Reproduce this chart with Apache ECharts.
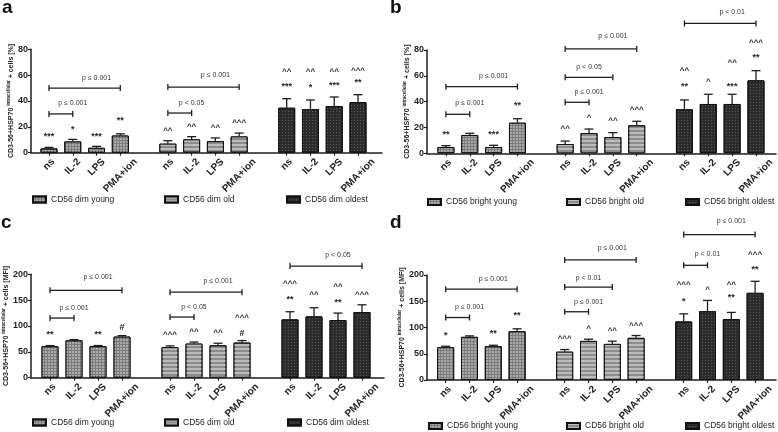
<!DOCTYPE html>
<html>
<head>
<meta charset="utf-8">
<script src="https://cdn.jsdelivr.net/npm/echarts@6/dist/echarts.min.js"></script>
<style>html,body{margin:0;background:#fff}#main{width:778px;height:432px}</style>
</head>
<body>
<div id="main"></div>
<script>
var categories = ['ns','IL-2','LPS','PMA+ion','','ns','IL-2','LPS','PMA+ion','','ns','IL-2','LPS','PMA+ion'];
var groupStart = [0, 5, 10];
var dimNames = ['CD56 dim young', 'CD56 dim old', 'CD56 dim oldest'];
var brightNames = ['CD56 bright young', 'CD56 bright old', 'CD56 bright oldest'];

// a: CD56 dim, % positive
var aValues = [[3.3, 8.7, 3.8, 13.3], [7, 10.3, 9, 12.6], [34.8, 33.8, 36.1, 39.2]];
var aErrors = [[0.8, 1.6, 1.1, 1.3], [2.3, 2.1, 2.4, 2.6], [7, 7, 7, 5.7]];
var aMarks = [[0,14,'***'],[1,19.5,'*'],[2,14,'***'],[3,26.7,'**'],
  [5,18.6,'^^'],[6,21.4,'^^'],[7,20.6,'^^'],[8,24.5,'^^^'],
  [10,64,'^^'],[11,64,'^^'],[12,64,'^^'],[13,65,'^^^'],
  [10,53,'***'],[11,52,'*'],[12,53.7,'***'],[13,56,'**']];
var aBrackets = [[0,1,30,38.2,'p ≤ 0.001'],[0,3,50,58,'p ≤ 0.001'],
  [5,6,30.7,38.7,'p < 0.05'],[5,8,50.8,60,'p ≤ 0.001']];

// b: CD56 bright, % positive
var bValues = [[4.9, 14.2, 4.9, 23.7], [7.2, 15.7, 12.6, 21.7], [34.1, 38.2, 38.2, 56.5]];
var bErrors = [[1.0, 1.3, 1.3, 3.1], [2.3, 3.1, 3.4, 3.1], [7.2, 7.5, 7.5, 7.5]];
var bMarks = [[0,16.3,'**'],[2,16.3,'***'],[3,38.5,'**'],
  [5,20.6,'^^'],[6,29.2,'^'],[7,26.6,'^^'],[8,35.4,'^^^'],
  [10,65.3,'^^'],[10,52.9,'**'],[11,56.8,'^'],[12,71.5,'^^'],[12,52.9,'***'],
  [13,87.2,'^^^'],[13,75.4,'**']];
var bBrackets = [[0,1,30.2,39.2,'p ≤ 0.001'],[0,3,51.6,59.9,'p ≤ 0.001'],
  [5,6,39.5,47.7,'p ≤ 0.001'],[5,7,58.8,67,'p < 0.05'],[5,8,80.8,91,'p ≤ 0.001'],
  [10,13,100.6,109,'p < 0.01']];

// c: CD56 dim, MFI
var cValues = [[60.9, 72.4, 61, 79.5], [59, 66, 62.8, 68], [112.8, 118.6, 111.5, 127]];
var cErrors = [[1.2, 1.3, 1.2, 1.9], [2.5, 3, 3.9, 3.8], [14.8, 16.7, 13.5, 14]];
var cMarks = [[0,86.5,'**'],[2,88,'**'],[3,100.6,'#'],
  [5,86,'^^^'],[6,93,'^^'],[7,90,'^^'],[8,90,'#'],[8,120.5,'^^^'],
  [10,185,'^^^'],[10,154.5,'**'],[11,164,'^^'],[12,180,'^^'],[12,149,'**'],[13,165,'^^^']];
var cBrackets = [[0,1,115.4,134.6,'p ≤ 0.001'],[0,3,169,194,'p ≤ 0.001'],
  [5,6,117.3,136.5,'p < 0.05'],[5,8,165.4,187,'p ≤ 0.001'],
  [10,13,216,236.5,'p < 0.05']];

// d: CD56 bright, MFI
var dValues = [[62.4, 82.2, 64.3, 93], [54, 74.5, 68.8, 80.3], [111.5, 131, 116, 166]];
var dErrors = [[1.9, 1.8, 1.9, 4.5], [4, 3.2, 5.1, 4.4], [14.5, 20.6, 12.7, 22]];
var dMarks = [[0,89,'*'],[2,92,'**'],[3,127,'**'],
  [5,81.5,'^^^'],[6,100.6,'^'],[7,98,'^^'],[8,107.6,'^^^'],
  [10,184.7,'^^^'],[10,154,'*'],[11,176.4,'^'],[12,184.7,'^^'],[12,161,'**'],
  [13,242.7,'^^^'],[13,215,'**']];
var dBrackets = [[0,1,119,138,'p ≤ 0.001'],[0,3,173,193,'p ≤ 0.001'],
  [5,6,130,148.4,'p ≤ 0.001'],[5,7,177,195,'p < 0.01'],[5,8,228.7,251.6,'p ≤ 0.001'],
  [10,11,218.5,240,'p < 0.01'],[10,13,277,302.5,'p ≤ 0.001']];

var panels = [
  {letter:'a', names:dimNames, values:aValues, errors:aErrors, marks:aMarks, brackets:aBrackets, max:80, step:20, unit:'[%]'},
  {letter:'b', names:brightNames, values:bValues, errors:bErrors, marks:bMarks, brackets:bBrackets, max:80, step:20, unit:'[%]'},
  {letter:'c', names:dimNames, values:cValues, errors:cErrors, marks:cMarks, brackets:cBrackets, max:200, step:50, unit:'[MFI]'},
  {letter:'d', names:brightNames, values:dValues, errors:dErrors, marks:dMarks, brackets:dBrackets, max:200, step:50, unit:'[MFI]'}
];

// layout in px: outer = axis frame, inner = bar area
var boxes = [
  {outer:[31, 49.3, 351, 103.4], inner:[37.1, 332.8], letter:[2, -2], legendLeft:[32, 164, 286], legendTop:195},
  {outer:[427, 50, 349, 103.3], inner:[434, 333.9], letter:[390, -2], legendLeft:[427, 566, 685], legendTop:197.5},
  {outer:[31, 274.3, 353, 103.4], inner:[38, 336], letter:[1, 213], legendLeft:[32, 164, 287], legendTop:418},
  {outer:[427, 275, 349, 105], inner:[433.8, 333.2], letter:[390, 213], legendLeft:[428, 566, 685], legendTop:421.5}
];

var fills = ['#7c7c7c', '#8c8c8c', '#2c2c2c'];
var decals = [
  {symbol:'rect', symbolSize:1, dashArrayX:[2, 1], dashArrayY:[2, 1], color:'#a9a9a9'},
  {symbol:'rect', symbolSize:1, dashArrayX:[20, 0], dashArrayY:[1.5, 1.5], color:'#bcbcbc'},
  {symbol:'rect', symbolSize:1, dashArrayX:[1, 2], dashArrayY:[1, 2], color:'#5a5a5a'}
];
var ink = '#1e1e1e';
var font = 'Liberation Sans';

// rotated tick labels: centre each under its tick with the top just below the axis
var xFont = 'bold 10px ' + font;
var ctx = document.createElement('canvas').getContext('2d');
ctx.font = xFont;
var labelKeys = {'ns':'ns', 'IL-2':'il', 'LPS':'lps', 'PMA+ion':'pma'};
var widths = {};
Object.keys(labelKeys).forEach(function (s) { widths[s] = ctx.measureText(s).width; });
var minW = Math.min.apply(null, Object.keys(widths).map(function (s) { return widths[s]; }));
var xRich = {};
Object.keys(labelKeys).forEach(function (s) {
  var pad = (widths[s] - minW) / 2;
  xRich[labelKeys[s]] = {padding:[pad, pad, 0, 0]};
});
var xMargin = 4 + (minW + 10) * 0.3535;

var grids = [], xAxes = [], yAxes = [], series = [], legends = [], graphics = [];

panels.forEach(function (p, k) {
  var b = boxes[k];
  grids.push({left:b.outer[0], top:b.outer[1], width:b.outer[2], height:b.outer[3]});
  grids.push({left:b.inner[0], top:b.outer[1], width:b.inner[1], height:b.outer[3]});
  var og = 2 * k, ig = 2 * k + 1;

  xAxes.push({gridIndex:og, type:'value', min:0, max:1,
    axisLine:{show:true, lineStyle:{color:ink, width:1.5}},
    axisTick:{show:false}, axisLabel:{show:false}, splitLine:{show:false}});
  xAxes.push({gridIndex:ig, type:'category', data:categories,
    axisLine:{show:false},
    axisTick:{show:true, alignWithLabel:true, length:3, lineStyle:{color:ink, width:1.2},
      interval:function (i, v) { return v !== ''; }},
    axisLabel:{interval:0, rotate:45, margin:xMargin, align:'center', verticalAlign:'middle',
      fontSize:10, fontWeight:'bold', color:ink, fontFamily:font, rich:xRich,
      formatter:function (v) { return v ? '{' + labelKeys[v] + '|' + v + '}' : ''; }}});

  yAxes.push({gridIndex:og, type:'value', min:0, max:p.max, interval:p.step,
    axisLine:{show:true, lineStyle:{color:ink, width:1.5}},
    axisTick:{show:true, length:3, lineStyle:{color:ink, width:1.2}},
    axisLabel:{fontSize:9, fontWeight:'bold', color:ink, margin:3, fontFamily:font},
    splitLine:{show:false},
    name:'{m|CD3-56+HSP70 }{s|intracellular}{m| + cells ' + p.unit + '}',
    nameLocation:'middle', nameRotate:90, nameGap:11,
    nameTextStyle:{rich:{
      m:{fontSize:7, fontWeight:'bold', color:ink, fontFamily:font, lineHeight:9},
      s:{fontSize:4.5, fontWeight:'bold', color:ink, fontFamily:font, verticalAlign:'top', lineHeight:5}
    }}});
  yAxes.push({gridIndex:ig, type:'value', min:0, max:p.max, show:false});

  p.names.forEach(function (name, g) {
    var data = categories.map(function (c, i) {
      var j = i - groupStart[g];
      return (j >= 0 && j < 4) ? p.values[g][j] : '-';
    });
    series.push({type:'bar', name:name, xAxisIndex:ig, yAxisIndex:ig,
      data:data, barWidth:17, barGap:'-100%',
      itemStyle:{color:fills[g], decal:decals[g], borderColor:'#111', borderWidth:1}});
    legends.push({data:[name], left:b.legendLeft[g], top:b.legendTop, padding:0,
      icon:'rect', itemWidth:13, itemHeight:6, selectedMode:false,
      textStyle:{fontSize:8.5, color:'#222', fontFamily:font}});
  });

  var errData = [];
  p.values.forEach(function (vals, g) {
    vals.forEach(function (v, j) { errData.push([groupStart[g] + j, v, v + p.errors[g][j]]); });
  });
  series.push({type:'custom', xAxisIndex:ig, yAxisIndex:ig, z:5, clip:false, data:errData,
    renderItem:function (params, api) {
      var a = api.coord([api.value(0), api.value(1)]);
      var t = api.coord([api.value(0), api.value(2)]);
      var st = {stroke:ink, lineWidth:1.3};
      return {type:'group', children:[
        {type:'line', shape:{x1:a[0], y1:a[1], x2:t[0], y2:t[1]}, style:st},
        {type:'line', shape:{x1:t[0] - 4.5, y1:t[1], x2:t[0] + 4.5, y2:t[1]}, style:st}
      ]};
    }});

  series.push({type:'custom', xAxisIndex:ig, yAxisIndex:ig, z:6, clip:false,
    data:p.marks.map(function (m) { return [m[0], m[1]]; }),
    renderItem:function (params, api) {
      var m = p.marks[params.dataIndex];
      var pt = api.coord([api.value(0), api.value(1)]);
      var caret = m[2].charAt(0) === '^';
      return {type:'text', x:pt[0], y:pt[1] + 2, style:{text:m[2], align:'center', verticalAlign:'middle',
        font:'bold ' + (caret ? 8 : 9) + 'px ' + font, fill:ink}};
    }});

  series.push({type:'custom', xAxisIndex:ig, yAxisIndex:ig, z:6, clip:false,
    data:p.brackets.map(function (r) { return [r[0], r[2], r[1], r[3]]; }),
    renderItem:function (params, api) {
      var r = p.brackets[params.dataIndex];
      var l = api.coord([api.value(0), api.value(1)]);
      var e = api.coord([api.value(2), api.value(1)]);
      var t = api.coord([(api.value(0) + api.value(2)) / 2, api.value(3)]);
      var st = {stroke:ink, lineWidth:1.3};
      return {type:'group', children:[
        {type:'line', shape:{x1:l[0], y1:l[1], x2:e[0], y2:e[1]}, style:st},
        {type:'line', shape:{x1:l[0], y1:l[1] - 3, x2:l[0], y2:l[1] + 3}, style:st},
        {type:'line', shape:{x1:e[0], y1:e[1] - 3, x2:e[0], y2:e[1] + 3}, style:st},
        {type:'text', x:t[0], y:t[1], style:{text:r[4], align:'center', verticalAlign:'middle',
          font:'7px ' + font, fill:'#333'}}
      ]};
    }});

  graphics.push({type:'text', left:b.letter[0], top:b.letter[1],
    style:{text:p.letter, font:'bold 19px ' + font, fill:'#111'}});
});

var option = {
  animation:false,
  backgroundColor:'#fff',
  textStyle:{fontFamily:font},
  grid:grids,
  xAxis:xAxes,
  yAxis:yAxes,
  legend:legends,
  graphic:graphics,
  series:series
};
var myChart = echarts.init(document.getElementById('main'));
myChart.setOption(option);
</script>
</body>
</html>
